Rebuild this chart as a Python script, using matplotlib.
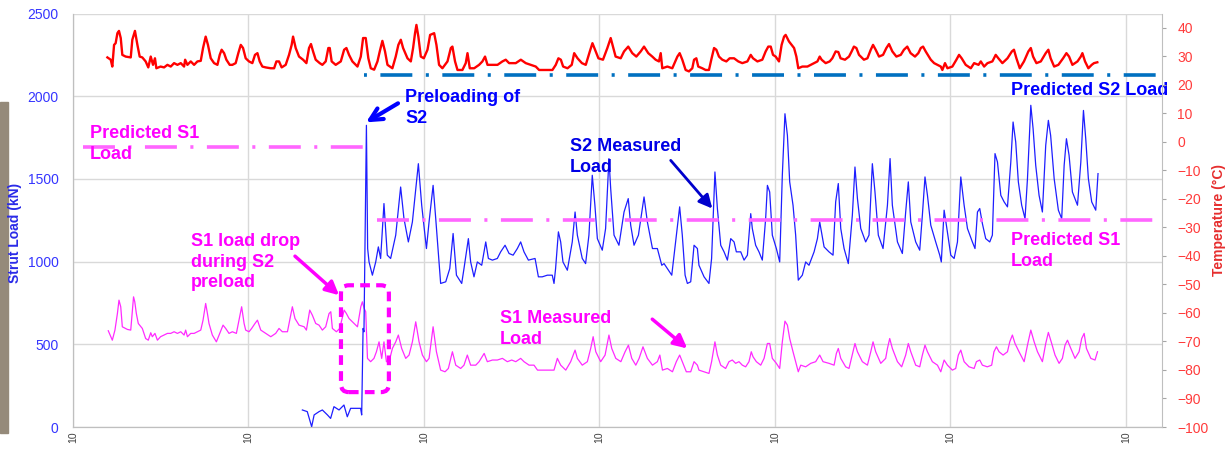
import matplotlib
matplotlib.use("Agg")
import matplotlib.pyplot as plt
from matplotlib.patches import FancyBboxPatch, Rectangle

plt.rcParams["font.family"] = ["Liberation Sans", "DejaVu Sans"]
plt.rcParams["lines.scale_dashes"] = False

# ---- data (days from start of record) ----
s2_day = [13.07, 13.35, 13.60, 13.74, 14.02, 14.21, 14.50, 14.68, 14.87, 15.16,
          15.44, 15.63, 15.82, 16.11, 16.39, 16.45, 16.53, 16.58, 16.72, 16.79,
          16.87, 17.06, 17.25, 17.40, 17.53, 17.72, 17.91, 18.10, 18.39, 18.67,
          18.86, 19.11, 19.34, 19.68, 19.87, 20.14, 20.29, 20.52, 20.67, 20.95,
          21.24, 21.47, 21.66, 21.85, 22.15, 22.28, 22.53, 22.66, 22.85, 23.04,
          23.29, 23.52, 23.67, 23.90, 24.18, 24.37, 24.62, 24.85, 25.08, 25.32,
          25.51, 25.70, 25.95, 26.33, 26.52, 26.74, 27.03, 27.31, 27.41, 27.50,
          27.66, 27.79, 27.92, 28.17, 28.45, 28.61, 28.74, 29.02, 29.21, 29.40,
          29.59, 29.74, 29.88, 30.16, 30.35, 30.54, 30.64, 30.83, 31.11, 31.40,
          31.64, 31.78, 31.97, 32.22, 32.54, 32.73, 33.02, 33.30, 33.55, 33.68,
          33.87, 34.12, 34.34, 34.57, 34.72, 34.88, 35.01, 35.20, 35.39, 35.58,
          35.67, 35.96, 36.24, 36.39, 36.58, 36.72, 36.91, 37.10, 37.29, 37.48,
          37.67, 37.80, 38.05, 38.24, 38.43, 38.62, 38.71, 38.90, 39.09, 39.28,
          39.47, 39.57, 39.70, 39.85, 40.08, 40.27, 40.42, 40.57, 40.71, 40.84,
          41.03, 41.18, 41.33, 41.56, 41.75, 41.94, 42.23, 42.42, 42.55, 42.80,
          43.08, 43.31, 43.46, 43.61, 43.75, 43.94, 44.18, 44.41, 44.56, 44.70,
          44.89, 45.17, 45.36, 45.55, 45.70, 45.89, 46.16, 46.41, 46.56, 46.69,
          46.98, 47.26, 47.45, 47.60, 47.74, 48.02, 48.25, 48.40, 48.55, 48.69,
          48.88, 49.16, 49.39, 49.48, 49.64, 49.77, 50.02, 50.21, 50.40, 50.59,
          50.78, 50.97, 51.25, 51.40, 51.54, 51.67, 51.82, 52.01, 52.24, 52.39,
          52.54, 52.68, 52.87, 53.06, 53.25, 53.44, 53.57, 53.72, 53.87, 54.06,
          54.25, 54.39, 54.58, 54.71, 54.86, 55.05, 55.24, 55.43, 55.58, 55.71,
          55.91, 56.15, 56.34, 56.48, 56.61, 56.76, 56.95, 57.24, 57.43, 57.58,
          57.71, 57.86, 58.05, 58.28, 58.41]
s2_load = [103, 93, 2, 73, 93, 103, 73, 52, 123, 103,
           133, 62, 113, 113, 113, 73, 596, 576, 1824, 1079,
           998, 918, 998, 1089, 1019, 1351, 1039, 1019, 1160, 1451,
           1260, 1119, 1240, 1592, 1341, 1079, 1240, 1461, 1260, 868,
           878, 958, 1170, 918, 868, 958, 1139, 998, 908, 998,
           978, 1119, 1019, 1009, 1019, 1059, 1099, 1049, 1039, 1079,
           1119, 1059, 1009, 1019, 908, 908, 918, 918, 868, 958,
           1180, 1119, 998, 948, 1119, 1300, 1160, 1019, 988, 1160,
           1522, 1341, 1139, 1069, 1200, 1623, 1441, 1160, 1099, 1300,
           1381, 1220, 1099, 1160, 1391, 1240, 1079, 1079, 978, 988,
           958, 918, 1119, 1331, 1160, 918, 868, 878, 1099, 1079,
           978, 908, 868, 1019, 1542, 1321, 1099, 1059, 1009, 1139,
           1119, 1059, 1059, 1009, 1039, 1290, 1200, 1099, 1059, 1009,
           1260, 1461, 1421, 1160, 1079, 998, 1522, 1894, 1763, 1482,
           1341, 1160, 888, 918, 998, 978, 1059, 1139, 1240, 1089,
           1059, 1039, 1361, 1472, 1200, 1079, 988, 1280, 1572, 1381,
           1200, 1119, 1160, 1592, 1421, 1160, 1079, 1341, 1623, 1341,
           1119, 1049, 1300, 1482, 1240, 1119, 1069, 1280, 1512, 1401,
           1220, 1119, 1039, 998, 1311, 1220, 1039, 1019, 1119, 1512,
           1341, 1200, 1119, 1079, 1300, 1321, 1230, 1139, 1119, 1160,
           1653, 1602, 1401, 1361, 1331, 1602, 1844, 1723, 1482, 1341,
           1260, 1502, 1945, 1804, 1582, 1401, 1300, 1703, 1854, 1763,
           1502, 1311, 1260, 1582, 1743, 1643, 1421, 1341, 1602, 1914,
           1743, 1502, 1361, 1311, 1532]

s1_day = [2.01, 2.24, 2.39, 2.53, 2.62, 2.72, 2.81, 3.10, 3.29, 3.45,
          3.52, 3.61, 3.72, 3.95, 4.14, 4.29, 4.43, 4.52, 4.67, 4.81,
          4.99, 5.19, 5.38, 5.57, 5.76, 5.95, 6.14, 6.33, 6.42, 6.52,
          6.71, 6.90, 7.09, 7.28, 7.41, 7.56, 7.66, 7.75, 7.94, 8.17,
          8.36, 8.55, 8.70, 8.89, 9.08, 9.31, 9.46, 9.61, 9.75, 9.84,
          10.03, 10.18, 10.37, 10.51, 10.70, 10.98, 11.27, 11.55, 11.74, 11.93,
          12.22, 12.35, 12.50, 12.65, 12.88, 13.17, 13.30, 13.49, 13.64, 13.83,
          14.02, 14.21, 14.40, 14.59, 14.69, 14.78, 15.01, 15.20, 15.45, 15.58,
          15.73, 15.92, 16.21, 16.40, 16.49, 16.59, 16.68,
          16.78, 16.96, 17.15, 17.29, 17.44, 17.59, 17.72, 17.86, 18.01, 18.20,
          18.39, 18.54, 18.73, 18.96, 19.15, 19.34, 19.53, 19.72, 19.91, 20.14,
          20.29, 20.52, 20.71, 20.95, 21.20, 21.39, 21.62, 21.81, 22.09, 22.28,
          22.47, 22.66, 22.95, 23.14, 23.43, 23.61, 23.90, 24.18, 24.47, 24.75,
          25.00, 25.23, 25.51, 25.70, 25.99, 26.27, 26.47, 26.75, 27.13, 27.41,
          27.60, 27.79, 28.08, 28.36, 28.61, 28.74, 29.02, 29.31, 29.50, 29.64,
          29.79, 30.07, 30.32, 30.54, 30.70, 30.93, 31.22, 31.46, 31.65, 31.84,
          32.07, 32.26, 32.48, 32.73, 33.02, 33.30, 33.44, 33.59, 33.87, 34.16,
          34.38, 34.57, 34.72, 34.95, 35.20, 35.39, 35.58,
          35.67, 35.96, 36.24, 36.39, 36.58, 36.72, 36.91, 37.19, 37.38, 37.57,
          37.76, 37.95, 38.14, 38.33, 38.52, 38.65, 38.75, 38.94, 39.19, 39.38,
          39.57, 39.70, 39.85, 40.08, 40.27, 40.42, 40.57, 40.71, 40.84, 41.03,
          41.18, 41.33, 41.47, 41.75, 42.04, 42.32, 42.55, 42.74, 43.08, 43.37,
          43.50, 43.61, 43.75, 44.03, 44.22, 44.45, 44.56, 44.70, 44.98, 45.27,
          45.46, 45.59, 45.74, 46.03, 46.31, 46.41, 46.54, 46.69, 46.98, 47.22,
          47.45, 47.60, 47.74, 48.02, 48.25, 48.40, 48.55, 48.69, 48.97, 49.26,
          49.45, 49.64, 49.83, 50.11, 50.30, 50.45, 50.59, 50.78, 51.06, 51.35,
          51.48, 51.67, 51.82, 52.10, 52.35, 52.48, 52.62, 52.77, 53.00, 53.25,
          53.38, 53.53, 53.68, 53.91, 54.20, 54.39, 54.58, 54.77, 54.96, 55.24,
          55.43, 55.58, 55.77, 55.96, 56.19, 56.38, 56.53, 56.67, 56.86, 57.10,
          57.33, 57.48, 57.62, 57.75, 58.00, 58.24, 58.38]
s1_load = [582, 525, 586, 686, 767, 727, 606, 590, 586, 787,
           757, 686, 626, 596, 535, 525, 570, 546, 566, 525,
           546, 556, 566, 566, 576, 566, 576, 556, 586, 546,
           566, 566, 576, 586, 646, 747, 686, 626, 556, 515,
           566, 616, 596, 566, 576, 566, 646, 727, 626, 586,
           576, 596, 626, 646, 586, 566, 546, 566, 596, 576,
           576, 646, 727, 656, 616, 606, 586, 707, 676, 626,
           616, 586, 606, 686, 697, 596, 576, 596, 707, 686,
           656, 636, 606, 727, 757, 717, 697,
           415, 395, 415, 455, 515, 415, 515, 395, 395, 475,
           515, 556, 475, 415, 435, 515, 636, 515, 435, 395,
           415, 606, 455, 344, 334, 354, 455, 374, 354, 374,
           435, 374, 374, 395, 445, 395, 405, 405, 415, 395,
           405, 395, 415, 395, 374, 374, 344, 344, 344, 344,
           415, 374, 344, 395, 465, 415, 374, 395, 475, 546,
           455, 395, 435, 556, 475, 415, 395, 455, 495, 415,
           374, 415, 485, 415, 374, 395, 435, 344, 354, 334,
           395, 435, 395, 334, 334, 395, 374,
           344, 334, 324, 395, 515, 435, 374, 354, 395, 405,
           385, 395, 374, 364, 395, 455, 425, 395, 374, 415,
           505, 505, 415, 385, 354, 515, 640, 616, 535, 455,
           395, 334, 374, 364, 385, 395, 435, 395, 385, 374,
           445, 475, 415, 364, 354, 455, 505, 455, 395, 374,
           455, 515, 455, 385, 415, 475, 535, 475, 395, 364,
           435, 505, 455, 374, 364, 435, 495, 455, 395, 374,
           334, 405, 374, 344, 354, 435, 465, 395, 364, 354,
           395, 405, 374, 364, 374, 455, 485, 455, 435, 455,
           515, 556, 505, 455, 395, 495, 586, 515, 455, 395,
           505, 572, 505, 435, 385, 415, 495, 525, 475, 415,
           455, 535, 566, 475, 415, 405, 455]

temp_day = [1.96, 2.15, 2.24, 2.34, 2.43, 2.53, 2.62, 2.72, 2.81, 3.00,
            3.29, 3.38, 3.53, 3.67, 3.80, 3.95, 4.14, 4.29, 4.43, 4.56,
            4.67, 4.75, 4.99, 5.19, 5.38, 5.57, 5.76, 5.95, 6.14, 6.33,
            6.39, 6.52, 6.71, 6.90, 7.09, 7.28, 7.41, 7.56, 7.69, 7.85,
            8.04, 8.23, 8.36, 8.47, 8.61, 8.74, 8.93, 9.08, 9.27, 9.42,
            9.56, 9.69, 9.84, 10.03, 10.22, 10.37, 10.51, 10.64, 10.79, 10.98,
            11.27, 11.46, 11.59, 11.74, 11.89, 12.12, 12.31, 12.46, 12.54, 12.69,
            12.88, 13.11, 13.30, 13.45, 13.56, 13.68, 13.83, 14.06, 14.21, 14.40,
            14.55, 14.63, 14.74, 14.97, 15.26, 15.45, 15.58, 15.73, 15.92, 16.21,
            16.40, 16.53, 16.68, 16.83, 16.97, 17.16, 17.35, 17.48, 17.63, 17.78,
            17.92, 18.20, 18.39, 18.54, 18.68, 18.81, 19.06, 19.25, 19.38, 19.49,
            19.57, 19.68, 19.82, 19.99, 20.20, 20.35, 20.58, 20.71, 20.86, 21.05,
            21.34, 21.53, 21.62, 21.77, 21.91, 22.19, 22.38, 22.48, 22.61, 22.86,
            23.14, 23.33, 23.48, 23.62, 23.90, 24.19, 24.47, 24.66, 24.85, 25.23,
            25.52, 25.80, 26.09, 26.37, 26.56, 26.94, 27.32, 27.51, 27.66, 27.80,
            27.93, 28.18, 28.42, 28.56, 28.75, 29.00, 29.22, 29.45, 29.60, 29.75,
            29.94, 30.20, 30.45, 30.64, 30.77, 30.92, 31.21, 31.40, 31.64, 31.87,
            32.10, 32.35, 32.54, 32.78, 33.01, 33.20, 33.39, 33.49, 33.58, 33.87,
            34.15, 34.44, 34.57, 34.72, 34.91, 35.10, 35.29, 35.39, 35.52, 35.63,
            35.86, 36.05, 36.24, 36.39, 36.53, 36.66, 36.81, 37.00, 37.23, 37.42,
            37.67, 37.91, 38.14, 38.43, 38.62, 38.75, 39.00, 39.28, 39.47, 39.62,
            39.76, 39.89, 40.04, 40.23, 40.38, 40.52, 40.61, 40.80, 41.09, 41.22,
            41.33, 41.56, 41.85, 42.04, 42.23, 42.42, 42.55, 42.66, 42.89, 43.12,
            43.27, 43.46, 43.61, 43.74, 43.99, 44.22, 44.37, 44.50, 44.64, 44.79,
            45.07, 45.27, 45.46, 45.59, 45.74, 45.93, 46.16, 46.35, 46.50, 46.69,
            46.92, 47.17, 47.35, 47.54, 47.73, 47.98, 48.17, 48.31, 48.44, 48.59,
            48.88, 49.07, 49.26, 49.45, 49.54, 49.69, 49.83, 50.11, 50.34, 50.49,
            50.64, 50.87, 51.16, 51.35, 51.60, 51.73, 51.92, 52.11, 52.39, 52.58,
            52.73, 52.96, 53.25, 53.50, 53.62, 53.76, 53.95, 54.19, 54.44, 54.58,
            54.71, 54.90, 55.15, 55.43, 55.58, 55.71, 55.91, 56.15, 56.42, 56.61,
            56.76, 56.95, 57.24, 57.43, 57.52, 57.67, 57.86, 58.05, 58.18, 58.37]
temp_c = [29.6, 28.8, 26.4, 34.0, 34.6, 38.1, 38.9, 36.4, 30.5, 29.9,
          29.6, 35.8, 38.9, 34.0, 29.9, 29.6, 28.2, 26.1, 29.9, 27.0,
          29.3, 25.8, 26.4, 26.1, 27.0, 26.4, 27.6, 27.0, 27.6, 26.4,
          28.8, 27.0, 28.2, 27.0, 28.2, 28.4, 32.9, 36.9, 34.0, 29.3,
          27.6, 27.0, 30.5, 32.3, 31.1, 28.8, 27.0, 27.0, 27.6, 31.1,
          34.0, 32.9, 29.3, 28.2, 27.6, 30.5, 31.1, 28.2, 26.4, 26.1,
          25.8, 25.8, 28.2, 28.2, 26.1, 27.0, 30.5, 34.0, 36.9, 32.9,
          29.9, 28.8, 27.6, 32.9, 34.3, 31.7, 28.8, 27.6, 27.0, 28.2,
          32.9, 32.9, 28.2, 27.0, 28.2, 32.3, 32.9, 30.5, 28.2, 26.4,
          29.9, 36.4, 36.4, 29.3, 25.8, 25.3, 28.2, 31.7, 35.4, 31.7,
          27.0, 25.8, 29.9, 34.0, 35.8, 32.9, 29.3, 28.2, 32.9, 38.1,
          41.0, 36.9, 29.9, 29.3, 32.3, 37.5, 38.1, 34.0, 27.0, 25.8,
          28.2, 32.9, 33.4, 28.2, 25.2, 25.2, 27.6, 31.1, 25.8, 25.8,
          27.0, 28.2, 29.9, 27.0, 27.0, 27.0, 28.2, 28.8, 27.6, 27.6,
          28.8, 27.6, 27.0, 26.4, 25.2, 25.2, 25.2, 27.0, 29.3, 28.8,
          26.4, 25.8, 27.0, 31.1, 29.3, 27.6, 27.0, 31.7, 34.6, 32.3,
          29.3, 28.8, 32.9, 36.4, 33.4, 29.9, 29.3, 31.7, 33.4, 31.1,
          29.9, 31.7, 33.4, 31.1, 29.9, 28.8, 28.2, 31.1, 25.8, 26.4,
          25.8, 29.9, 31.1, 28.8, 25.2, 24.7, 25.8, 28.8, 29.3, 26.4,
          25.8, 25.2, 25.2, 29.3, 32.9, 32.3, 29.9, 28.8, 28.2, 29.3,
          29.3, 28.2, 27.6, 28.2, 30.5, 29.3, 28.2, 28.8, 31.7, 33.4,
          33.4, 30.5, 29.9, 28.2, 34.0, 36.9, 37.5, 35.2, 32.9, 29.9,
          25.8, 26.4, 26.4, 27.0, 27.6, 28.2, 29.9, 28.8, 27.6, 28.2,
          29.3, 31.7, 31.5, 29.3, 28.8, 29.9, 31.7, 33.4, 32.9, 30.5,
          28.8, 29.3, 32.3, 34.0, 32.3, 29.9, 30.5, 32.9, 34.3, 31.7,
          29.9, 30.5, 32.3, 33.4, 31.1, 29.9, 31.1, 32.9, 33.4, 31.7,
          28.8, 27.6, 27.0, 26.4, 25.2, 27.6, 25.8, 26.4, 28.8, 30.5,
          29.3, 27.0, 25.8, 27.6, 27.0, 28.2, 26.4, 27.6, 28.2, 30.5,
          29.3, 27.6, 29.3, 31.7, 32.3, 29.3, 25.8, 28.2, 31.7, 32.9,
          29.9, 27.6, 28.2, 31.1, 32.3, 29.3, 26.4, 27.0, 29.3, 31.1,
          29.9, 27.0, 28.2, 29.9, 31.1, 28.2, 25.8, 27.0, 27.6, 27.9]

# predicted loads (kN) and the periods they apply to (days)
pred_s1_before = 1695
pred_s1_before_span = [0.0, 16.64]
pred_s1_after = 1250
pred_s1_after_span = [17.32, 62.05]
pred_s2 = 2130
pred_s2_span = [16.58, 62.05]

x_ticks = [0, 10, 20, 30, 40, 50, 60]
x_tick_labels = ["10"] * len(x_ticks)

BLUE = "#0000FF"
MAGENTA = "#FF00FF"
RED = "#FF0000"
DASHDOT = (23, 9.7, 2.2, 9.7)

fig = plt.figure(figsize=(12.29, 4.55), dpi=100)

# thin strip of a photo at the left edge of the original slide
fig.patches.append(Rectangle((0, 0.048), 0.0065, 0.727, transform=fig.transFigure,
                             color="#958a7a", zorder=-1))

ax = fig.add_axes([0.0594, 0.0615, 0.886, 0.9088])
ax2 = ax.twinx()

# measured loads
ax.plot(s1_day, s1_load, color="#FF2BFF", lw=0.9, zorder=3)
ax.plot(s2_day, s2_load, color="#1E1EFF", lw=0.9, zorder=3)

# predicted loads
ax.plot(pred_s1_before_span, [pred_s1_before] * 2, color="#FF66FF", lw=2.6,
        linestyle=(37.4, DASHDOT), zorder=4)
ax.plot(pred_s1_after_span, [pred_s1_after] * 2, color="#FF66FF", lw=2.6,
        linestyle=(0, DASHDOT), zorder=4)
ax.plot(pred_s2_span, [pred_s2] * 2, color="#0070C0", lw=2.6,
        linestyle=(32.8, DASHDOT), zorder=2)

# temperature on the right axis
ax2.plot(temp_day, temp_c, color=RED, lw=1.7)

# axes styling
ax.set_xlim(0, 62.05)
ax.set_ylim(0, 2500)
ax2.set_ylim(-100, 45)
ax.set_yticks(range(0, 2501, 500))
ax2.set_yticks(range(-100, 41, 10))
ax.set_xticks(x_ticks)
ax.set_xticklabels(x_tick_labels, rotation=90, fontsize=7.5, color="#404040")
ax.grid(True, color="#D9D9D9", lw=1)
ax.set_axisbelow(True)

for a in (ax, ax2):
    a.spines["top"].set_visible(False)
    for side in ("left", "bottom", "right"):
        a.spines[side].set_color("#BFBFBF")
ax.spines["right"].set_visible(False)

ax.tick_params(axis="y", length=0, labelsize=10, labelcolor="#3535FF", pad=10.5)
ax.tick_params(axis="x", length=0, pad=3)
ax2.tick_params(axis="y", length=3, color="#A6A6A6", labelsize=10,
                labelcolor="#FF3B3B", pad=8)

ax.set_ylabel("Strut Load (kN)", color="#2A2AE8", fontsize=10, fontweight="bold")
ax.yaxis.set_label_coords(-0.0465, 0.47)
ax2.set_ylabel("Temperature (°C)", color="#E62E2E", fontsize=10, fontweight="bold")
ax2.yaxis.set_label_coords(1.046, 0.5)

# annotations
txt = dict(fontsize=13, fontweight="bold", ha="left", va="top", linespacing=1.3,
           zorder=6)
ax.text(18.92, 2044, "Preloading of\nS2", color=BLUE, **txt)
ax.annotate("", xy=(16.70, 1842), xytext=(18.52, 1957),
            arrowprops=dict(arrowstyle="->", lw=3, color=BLUE,
                            mutation_scale=22, shrinkA=0, shrinkB=0))
ax.text(0.97, 1827, "Predicted S1\nLoad", color=MAGENTA, **txt)
ax.text(28.30, 1745, "S2 Measured\nLoad", color="#0000E6", **txt)
ax.annotate("", xy=(36.43, 1321), xytext=(34.06, 1612),
            arrowprops=dict(arrowstyle="-|>", lw=2, color="#0000CC",
                            mutation_scale=20, shrinkA=0, shrinkB=0))
ax.text(6.71, 1175, "S1 load drop\nduring S2\npreload", color=MAGENTA, **txt)
ax.annotate("", xy=(15.16, 797), xytext=(12.65, 1033),
            arrowprops=dict(arrowstyle="-|>", lw=2.5, color=MAGENTA,
                            mutation_scale=20, shrinkA=0, shrinkB=0))
ax.text(24.31, 708, "S1 Measured\nLoad", color=MAGENTA, **txt)
ax.annotate("", xy=(35.00, 475), xytext=(33.01, 652),
            arrowprops=dict(arrowstyle="-|>", lw=2.5, color=MAGENTA,
                            mutation_scale=20, shrinkA=0, shrinkB=0))
t = ax.text(53.43, 2086, "Predicted S2 Load", color=BLUE, **txt)
t.set_clip_on(False)
ax.text(53.43, 1180, "Predicted S1\nLoad", color=MAGENTA, **txt)

# dashed rounded box around the S1 load drop
box = FancyBboxPatch((15.27, 211), 18.0 - 15.27, 857 - 211,
                     boxstyle="round,pad=0,rounding_size=0.45",
                     mutation_aspect=106, fill=False, edgecolor=MAGENTA,
                     lw=3, linestyle=(0, (7, 4.5)), zorder=5)
ax.add_patch(box)

fig.savefig("out.png", dpi=100)
